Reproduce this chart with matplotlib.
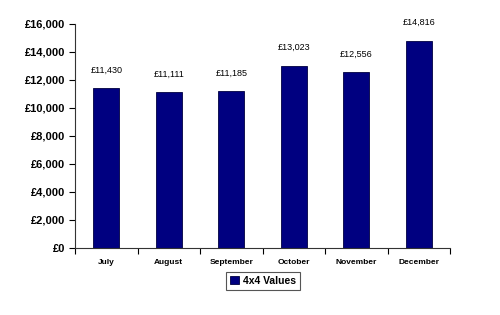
import matplotlib.pyplot as plt
from matplotlib.ticker import FuncFormatter

months = ["July", "August", "September", "October", "November", "December"]
values = [11430, 11111, 11185, 13023, 12556, 14816]
series_name = "4x4 Values"

plt.rcParams['font.family'] = ['Liberation Sans', 'DejaVu Sans']

fig = plt.figure(figsize=(5, 3.15), dpi=100)
ax = fig.add_axes([0.15, 0.213, 0.75, 0.711])

x = list(range(len(months)))
bars = ax.bar(x, values, width=0.42, color='#000080', edgecolor='#000040',
              linewidth=0.6, label=series_name)

for xi, v in zip(x, values):
    ax.annotate(f"£{v:,}", (xi, v), xytext=(0, 13), textcoords='offset points',
                ha='center', va='center', fontsize=6.5, color='black')

ax.set_xlim(-0.5, len(months) - 0.5)
ax.set_ylim(0, 16000)
ax.set_yticks(range(0, 16001, 2000))
ax.yaxis.set_major_formatter(FuncFormatter(lambda v, p: f"£{int(v):,}"))
for lab in ax.get_yticklabels():
    lab.set_fontweight('bold')
ax.tick_params(axis='y', labelsize=8, length=4, width=0.8, pad=3)

# category labels centred, tick marks on the boundaries
ax.set_xticks([i - 0.5 for i in range(len(months) + 1)])
ax.set_xticklabels([])
ax.tick_params(axis='x', length=4, width=0.8, direction='out')
ax.set_xticks(x, minor=True)
ax.set_xticklabels(months, minor=True, fontsize=6, fontweight='bold')
ax.tick_params(axis='x', which='minor', length=0, pad=8)

for s in ['top', 'right']:
    ax.spines[s].set_visible(False)
for s in ['left', 'bottom']:
    ax.spines[s].set_color('#333333')
    ax.spines[s].set_linewidth(0.8)

leg = ax.legend(loc='center', bbox_to_anchor=(263 / 500, 1 - 281 / 315),
                bbox_transform=fig.transFigure, fancybox=False, framealpha=1,
                edgecolor='#555555', prop={'weight': 'bold', 'size': 7.5},
                handlelength=0.8, handleheight=0.8, handletextpad=0.4,
                borderpad=0.4)
leg.get_frame().set_linewidth(0.8)

plt.savefig("out.png", dpi=100)
